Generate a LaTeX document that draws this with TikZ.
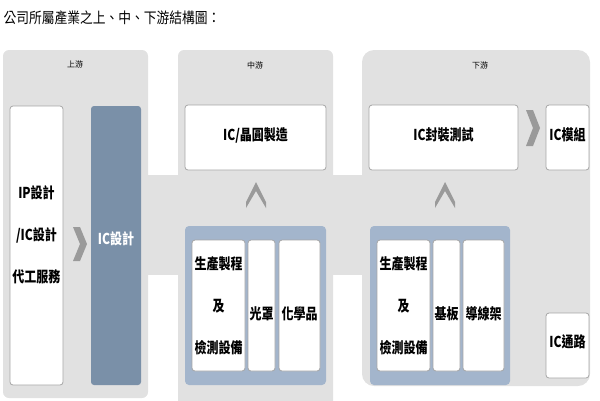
\documentclass[tikz,border=0pt]{standalone}
\usepackage{fontspec}
\usepackage{graphicx}
\setmainfont{Noto Sans CJK TC}
\definecolor{panel}{HTML}{E1E1E1}
\definecolor{dark}{HTML}{7A90A8}
\definecolor{cont}{HTML}{A3B5CC}
\definecolor{chev}{HTML}{9A9A9A}
\newcommand\sqz[1]{\scalebox{0.8}[1]{\begin{tabular}{@{}c@{}}#1\end{tabular}}}
\begin{document}
\begin{tikzpicture}[x=1pt,y=-1pt,
  wbox/.style={draw=gray!70,fill=white,rounded corners=3pt,line width=0.8pt},
  txt/.style={font=\bfseries\fontsize{15}{42}\selectfont,align=center,inner sep=0pt},
  lbl/.style={font=\fontsize{8}{9}\selectfont},
  chevpath/.style={fill=chev}]
\useasboundingbox (0,0) rectangle (600,400);
% panels
\fill[panel,rounded corners=6pt] (3,50) rectangle (148,398);
\fill[panel,rounded corners=6pt] (178,50) rectangle (333,410);
\fill[panel,rounded corners=12pt] (362,50) rectangle (590,386);
\fill[panel] (145,175) rectangle (181,275);
\fill[panel] (330,175) rectangle (365,275);
\node[anchor=west,font=\fontsize{15}{17}\selectfont] (title) at (0,18) {\scalebox{0.85}[1]{公司所屬產業之上、中、下游結構圖：}};
\node[lbl] (l1) at (75,64) {上游};
\node[lbl] (l2) at (255,65) {中游};
\node[lbl] (l3) at (480,65) {下游};
% upstream
\draw[wbox] (10,106) rectangle (63,385);
\node[txt] (ip) at (36.5,232) {\sqz{IP設計\\/IC設計\\代工服務}};
\fill[dark,rounded corners=3pt] (91,106) rectangle (141,385);
\node[txt,text=white] (icd) at (116,236) {\sqz{IC設計}};
\fill[chevpath] (73,227) -- (80,227) -- (87,244) -- (80,261) -- (73,261) -- (80,244) -- cycle;
% midstream
\draw[wbox] (185,105) rectangle (326,170);
\node[txt] (fab) at (255.5,132) {\sqz{IC/晶圓製造}};
\fill[chevpath] (246,208) -- (246,202) -- (256,182) -- (266,202) -- (266,208) -- (256,191) -- cycle;
\fill[cont,rounded corners=4pt] (185,226) rectangle (326,385);
\draw[wbox] (192,240) rectangle (245,371);
\node[txt] (m1) at (218.5,303) {\sqz{生產製程\\及\\檢測設備}};
\draw[wbox] (248,240) rectangle (275,371);
\node[txt] (m2) at (261.5,311) {\sqz{光罩}};
\draw[wbox] (279,240) rectangle (320,371);
\node[txt] (m3) at (299.5,311) {\sqz{化學品}};
% downstream
\draw[wbox] (369,105) rectangle (518,170);
\node[txt] (pkg) at (443.5,132) {\sqz{IC封裝測試}};
\fill[chevpath] (526,110) -- (533,110) -- (540,128) -- (533,146) -- (526,146) -- (533,128) -- cycle;
\draw[wbox] (546,105) rectangle (589,170);
\node[txt] (mod) at (567.5,132) {\sqz{IC模組}};
\fill[chevpath] (435,208) -- (435,202) -- (445,182) -- (455,202) -- (455,208) -- (445,191) -- cycle;
\fill[cont,rounded corners=4pt] (370,226) rectangle (510,385);
\draw[wbox] (377,240) rectangle (430,371);
\node[txt] (d1) at (403.5,303) {\sqz{生產製程\\及\\檢測設備}};
\draw[wbox] (433,240) rectangle (460,371);
\node[txt] (d2) at (446.5,311) {\sqz{基板}};
\draw[wbox] (463,240) rectangle (504,371);
\node[txt] (d3) at (483.5,311) {\sqz{導線架}};
\draw[wbox] (546,313) rectangle (589,378);
\node[txt] (ch) at (567.5,339) {\sqz{IC通路}};
\end{tikzpicture}
\end{document}
